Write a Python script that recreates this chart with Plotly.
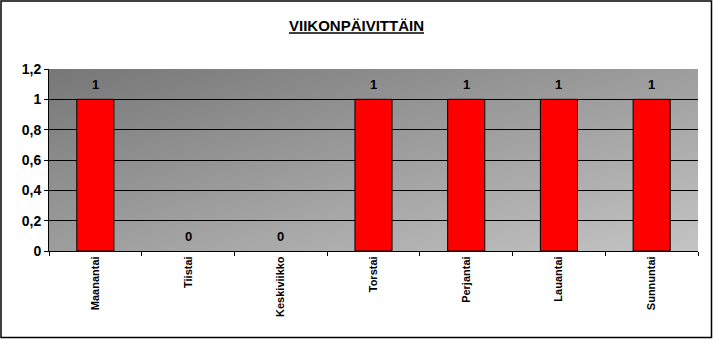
import plotly.graph_objects as go
import urllib.parse

categories = ["Maanantai", "Tiistai", "Keskiviikko", "Torstai", "Perjantai", "Lauantai", "Sunnuntai"]
values = [1, 0, 0, 1, 1, 1, 1]
y_ticks = [0, 0.2, 0.4, 0.6, 0.8, 1, 1.2]
y_tick_labels = ["0", "0,2", "0,4", "0,6", "0,8", "1", "1,2"]
title_text = "VIIKONPÄIVITTÄIN"

W, H = 713, 339
ml, mr, mt, mb = 49, 15, 69, 88
FONT = "Liberation Sans, Arial"

svg = ('<svg xmlns="http://www.w3.org/2000/svg" width="100" height="100" preserveAspectRatio="none">'
       '<defs><linearGradient id="g" x1="0" y1="0" x2="1" y2="1">'
       '<stop offset="0" stop-color="#777777"/><stop offset="1" stop-color="#c4c4c4"/>'
       '</linearGradient></defs><rect width="100" height="100" fill="url(#g)"/></svg>')
src = "data:image/svg+xml;charset=utf-8," + urllib.parse.quote(svg)

fig = go.Figure()
fig.add_trace(go.Bar(
    x=categories, y=values,
    marker=dict(color="#ff0000",
                line=dict(color="black", width=[1 if v else 0 for v in values])),
    width=0.4,
))

for c, v in zip(categories, values):
    fig.add_annotation(x=c, y=v, text="<b>%d</b>" % v, showarrow=False, yshift=15,
                       font=dict(family=FONT, size=13, color="black"))

pw = W - ml - mr
ph = H - mt - mb
fig.add_shape(type="rect", xref="paper", yref="paper",
              x0=-(ml - 1) / pw, x1=1 + (mr - 1.5) / pw,
              y0=-(mb - 1.5) / ph, y1=1 + (mt - 1) / ph,
              line=dict(color="black", width=1.5), layer="above")

fig.update_layout(
    width=W, height=H,
    margin=dict(l=ml, r=mr, t=mt, b=mb, pad=0),
    paper_bgcolor="white",
    plot_bgcolor="rgba(0,0,0,0)",
    showlegend=False,
    images=[dict(source=src, xref="paper", yref="paper", x=0, y=1, sizex=1, sizey=1,
                 xanchor="left", yanchor="top", sizing="stretch", layer="below")],
    title=dict(text="<b><u>" + title_text + "</u></b>", x=0.5, xref="container", xanchor="center",
               y=1 - 26 / H, yanchor="middle",
               font=dict(family=FONT, size=15, color="black")),
    xaxis=dict(type="category", showgrid=False, showline=True, linecolor="black", linewidth=1,
               ticks="outside", tickson="boundaries", ticklen=4, tickcolor="black",
               tickangle=-90,
               tickvals=categories, ticktext=["<b>%s</b>" % c for c in categories],
               tickfont=dict(family=FONT, size=11, color="black"),
               range=[-0.5, 6.5]),
    yaxis=dict(range=[0, 1.2], tickvals=y_ticks, ticktext=["<b>%s</b>" % t for t in y_tick_labels],
               showgrid=True, gridcolor="black", gridwidth=1, zeroline=False,
               showline=True, linecolor="black", linewidth=1,
               ticks="outside", ticklen=4, tickcolor="black",
               tickfont=dict(family=FONT, size=14, color="black")),
)

fig.write_html("out.html")
